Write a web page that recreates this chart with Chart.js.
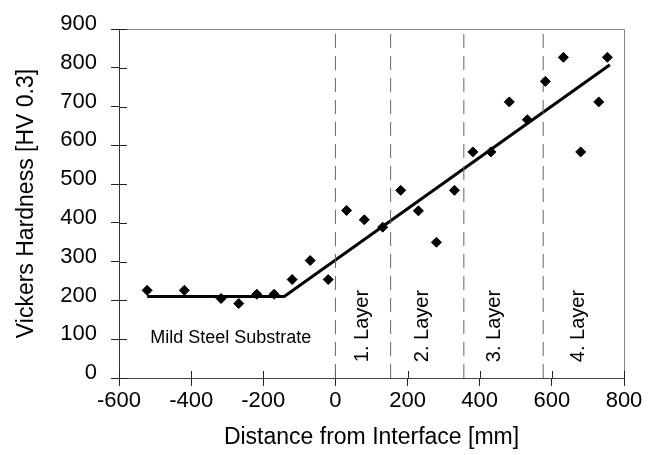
<!DOCTYPE html>
<html>
<head>
<meta charset="UTF-8">
<title>Vickers Hardness</title>
<script src="https://cdn.jsdelivr.net/npm/chart.js@4.4.1/dist/chart.umd.min.js"></script>
<style>
  body { margin: 0; background: #fff; }
</style>
</head>
<body>
<canvas id="myChart" width="648" height="455"></canvas>
<script>
// measured hardness values
const distance = [-522, -419, -317, -268, -218, -170, -120, -70, -20, 31, 80, 131, 181, 230, 280, 330, 381, 431, 482, 532, 582, 632, 680, 730, 754];
const hardness = [226, 226, 205, 192, 216, 216, 254, 303, 254, 432, 408, 389, 484, 431, 350, 484, 583, 583, 712, 666, 765, 827, 583, 712, 827];

// piecewise fit line
const fitX = [-522, -142, 761];
const fitY = [210, 210, 808];

// layer boundaries and labels
const layerBounds = [0, 153, 356, 576];
const layerNames = ['1. Layer', '2. Layer', '3. Layer', '4. Layer'];
const layerLabelX = [76, 240, 440, 675];
const layerLabelY = 134;
const substrateLabel = 'Mild Steel Substrate';
const substrateX = -290;
const substrateY = 103;

const font = "'Liberation Sans', Arial, sans-serif";
Chart.defaults.font.family = font;
Chart.defaults.color = '#000';

const points = distance.map((x, i) => ({x: x, y: hardness[i]}));
const fit = fitX.map((x, i) => ({x: x, y: fitY[i]}));
const boundSets = layerBounds.map(b => ({
  type: 'line',
  data: [{x: b, y: 0}, {x: b, y: 900}],
  borderColor: '#666',
  borderWidth: 1,
  borderDash: [14, 8],
  pointRadius: 0,
  fill: false
}));

// frame, inner tick halves and text labels
const extras = {
  id: 'extras',
  beforeDatasetsDraw(chart) {
    const {ctx, chartArea: a, scales: {x, y}} = chart;
    ctx.save();
    ctx.strokeStyle = '#888';
    ctx.lineWidth = 1;
    ctx.beginPath();
    ctx.moveTo(a.left, a.top + 0.5);
    ctx.lineTo(a.right + 0.5, a.top + 0.5);
    ctx.lineTo(a.right + 0.5, a.bottom);
    ctx.stroke();
    ctx.strokeStyle = '#222';
    ctx.beginPath();
    y.ticks.forEach(t => {
      const py = Math.round(y.getPixelForValue(t.value)) + 0.5;
      ctx.moveTo(a.left, py);
      ctx.lineTo(a.left + 8, py);
    });
    x.ticks.forEach(t => {
      const px = Math.round(x.getPixelForValue(t.value)) + 0.5;
      ctx.moveTo(px, a.bottom);
      ctx.lineTo(px, a.bottom - 7);
    });
    ctx.stroke();
    ctx.restore();
  },
  afterDatasetsDraw(chart) {
    const {ctx, scales: {x, y}} = chart;
    ctx.save();
    ctx.fillStyle = '#000';
    ctx.textAlign = 'center';
    ctx.textBaseline = 'middle';
    ctx.font = '18px ' + font;
    ctx.fillText(substrateLabel, x.getPixelForValue(substrateX), y.getPixelForValue(substrateY));
    ctx.font = '20px ' + font;
    layerNames.forEach((name, i) => {
      ctx.save();
      ctx.translate(x.getPixelForValue(layerLabelX[i]), y.getPixelForValue(layerLabelY));
      ctx.rotate(-Math.PI / 2);
      ctx.fillText(name, 0, 0);
      ctx.restore();
    });
    ctx.restore();
  }
};

const ctx = document.getElementById('myChart').getContext('2d');
const myChart = new Chart(ctx, {
  type: 'scatter',
  data: {
    datasets: [{
      label: 'Hardness',
      data: points,
      backgroundColor: '#000',
      borderColor: '#000',
      borderWidth: 1,
      pointStyle: 'rectRot',
      pointRadius: 5,
      order: 0
    }, {
      type: 'line',
      label: 'Fit',
      data: fit,
      borderColor: '#000',
      borderWidth: 3,
      pointRadius: 0,
      fill: false,
      order: 1
    }, ...boundSets]
  },
  options: {
    responsive: false,
    animation: false,
    layout: {
      padding: {left: 0, right: 24, top: 29, bottom: 0}
    },
    scales: {
      x: {
        type: 'linear',
        min: -600,
        max: 800,
        ticks: {
          stepSize: 200,
          padding: 2,
          font: {size: 22}
        },
        grid: {
          drawOnChartArea: false,
          tickLength: 8,
          color: '#222'
        },
        border: {color: '#444'},
        title: {
          display: true,
          text: 'Distance from Interface [mm]',
          font: {size: 23},
          padding: {top: 0, bottom: 4}
        },
        afterFit: (s) => { s.height = 77; }
      },
      y: {
        min: 0,
        max: 900,
        ticks: {
          stepSize: 100,
          padding: 14,
          labelOffset: -5,
          font: {size: 22}
        },
        grid: {
          drawOnChartArea: false,
          tickLength: 8,
          color: '#222'
        },
        border: {color: '#333'},
        title: {
          display: true,
          text: 'Vickers Hardness [HV 0.3]',
          font: {size: 23},
          padding: {top: 13, bottom: 0}
        },
        afterFit: (s) => { s.width = 119; }
      }
    },
    plugins: {
      legend: {display: false},
      tooltip: {enabled: false}
    }
  },
  plugins: [extras]
});
</script>
</body>
</html>
